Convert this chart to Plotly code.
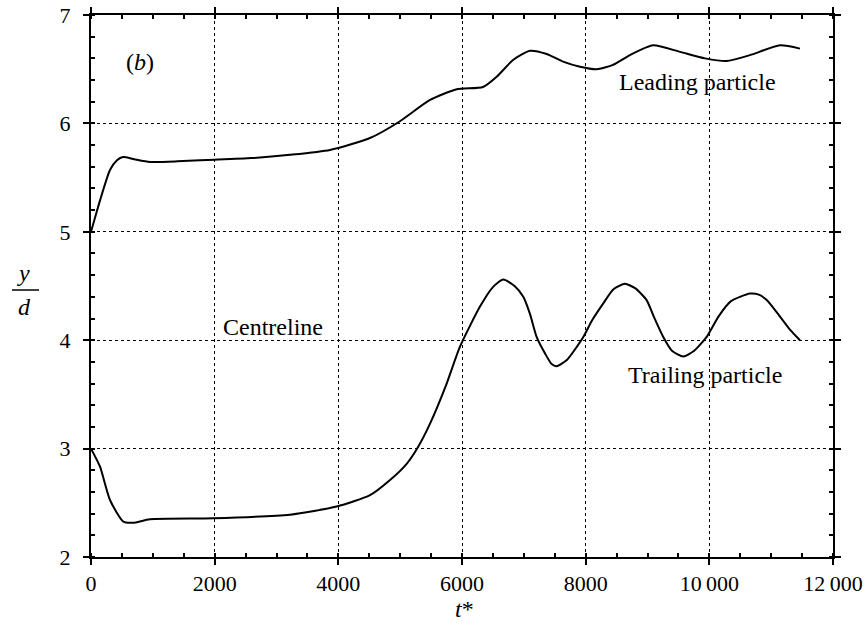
import plotly.graph_objects as go

# Leading particle trajectory (t*, y/d)
lead_t = [0, 60, 146, 307, 420, 518, 700, 954, 1400, 1763, 2000, 2600, 3218, 3865, 4512, 4997,
          5483, 5914, 6340, 6561, 6825, 7100, 7370, 7634, 7908, 8178, 8442, 8717, 9089, 9526,
          9930, 10281, 10658, 11143, 11466]
lead_y = [5.0, 5.12, 5.29, 5.57, 5.66, 5.69, 5.67, 5.645, 5.65, 5.66, 5.665, 5.68, 5.71, 5.755,
          5.865, 6.02, 6.216, 6.315, 6.336, 6.43, 6.585, 6.67, 6.64, 6.57, 6.523, 6.50, 6.54,
          6.63, 6.72, 6.66, 6.60, 6.575, 6.63, 6.72, 6.69]

# Trailing particle trajectory (t*, y/d)
trail_t = [0, 146, 307, 523, 680, 954, 1977, 3218, 3973, 4512, 4836, 5105, 5294, 5483, 5752,
           5967, 6291, 6500, 6668, 6850, 6991, 7100, 7207, 7350, 7450, 7531, 7700, 7962, 8100,
           8285, 8450, 8636, 8800, 8986, 9100, 9255, 9400, 9579, 9750, 9957, 10150, 10350,
           10658, 10800, 10928, 11100, 11300, 11466]
trail_y = [3.0, 2.833, 2.526, 2.326, 2.316, 2.348, 2.357, 2.39, 2.465, 2.57, 2.71, 2.86, 3.02,
           3.23, 3.60, 3.94, 4.31, 4.49, 4.56, 4.50, 4.40, 4.24, 4.03, 3.87, 3.78, 3.76, 3.82,
           4.03, 4.18, 4.34, 4.47, 4.52, 4.48, 4.37, 4.22, 4.03, 3.90, 3.85, 3.90, 4.03, 4.22,
           4.36, 4.43, 4.42, 4.37, 4.25, 4.10, 4.0]

x_tickvals = [0, 2000, 4000, 6000, 8000, 10000, 12000]
x_ticktext = ["0", "2000", "4000", "6000", "8000", "10\u2009000", "12\u2009000"]
y_tickvals = [2, 3, 4, 5, 6, 7]

FONT = "Liberation Serif"

fig = go.Figure()
for t, y in [(lead_t, lead_y), (trail_t, trail_y)]:
    fig.add_trace(go.Scatter(x=t, y=y, mode="lines",
                             line=dict(color="black", width=2, shape="spline", smoothing=0.6),
                             showlegend=False, hoverinfo="skip"))

axis_common = dict(
    showline=True, linecolor="black", linewidth=2, mirror="ticks",
    ticks="outside", ticklen=6, tickwidth=2, tickcolor="black",
    showgrid=True, gridcolor="black", gridwidth=1, griddash="dot",
    zeroline=False, automargin=False, ticklabeloverflow="allow",
    tickfont=dict(family=FONT, size=22, color="black"),
)

fig.update_xaxes(range=[0, 12000], tickvals=x_tickvals, ticktext=x_ticktext,
                 minor=dict(dtick=500, ticks="inside", ticklen=4, tickwidth=1.5,
                            tickcolor="black", showgrid=False),
                 ticklabelstandoff=0, **axis_common)
fig.update_yaxes(range=[2, 7], tickvals=y_tickvals,
                 minor=dict(dtick=0.2, ticks="inside", ticklen=4, tickwidth=1.5,
                            tickcolor="black", showgrid=False),
                 ticklabelstandoff=8, **axis_common)

txt = dict(family=FONT, size=24, color="black")
ann = dict(showarrow=False, xanchor="center", yanchor="middle")
fig.add_annotation(x=792, y=6.57, text="(<i>b</i>)", font=txt, **ann)
fig.add_annotation(x=9801, y=6.38, text="Leading particle", font=txt, **ann)
fig.add_annotation(x=2943, y=4.12, text="Centreline", font=txt, **ann)
fig.add_annotation(x=9930, y=3.68, text="Trailing particle", font=txt, **ann)

# axis titles
big = dict(family=FONT, size=24, color="black")
fig.add_annotation(xref="paper", yref="paper", x=0.504, y=-0.096, text="<i>t</i>*",
                   font=big, **ann)
fig.add_annotation(xref="paper", yref="paper", x=-0.0916, y=0.524, text="<i>y</i>",
                   font=big, **ann)
fig.add_annotation(xref="paper", yref="paper", x=-0.0890, y=0.461, text="<i>d</i>",
                   font=big, **ann)
fig.add_shape(type="line", xref="paper", yref="paper", x0=-0.1065, x1=-0.070,
              y0=0.4926, y1=0.4926, line=dict(color="black", width=1.5))

fig.update_layout(
    width=867, height=630,
    margin=dict(l=91, r=34, t=15, b=73),
    paper_bgcolor="white", plot_bgcolor="white",
    font=dict(family=FONT, color="black"),
)

fig.write_html("out.html", config={"displayModeBar": False},
               post_script="document.body.style.margin='0';")
